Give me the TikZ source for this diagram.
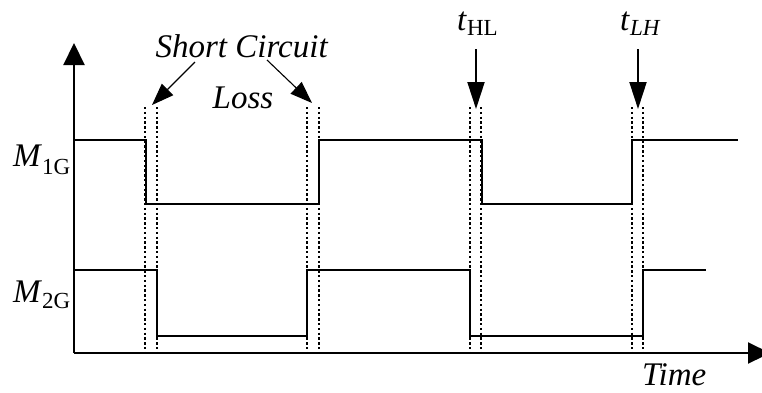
\documentclass[tikz,border=0pt]{standalone}
\usepackage{fontspec}
\setmainfont{Liberation Serif}
\usetikzlibrary{arrows.meta}
\newcommand{\bigtxt}{\fontsize{33}{36}\selectfont}
\newcommand{\subtxt}{\fontsize{23}{24}\selectfont}
\begin{document}
\begin{tikzpicture}[x=1pt,y=-1pt,
  wave/.style={line width=2.2pt,line join=miter},
  axis/.style={line width=2.2pt,-{Triangle[length=22pt,width=21pt]}},
  dotline/.style={line width=2.3pt,dash pattern=on 2.4pt off 2.4pt},
  thinarrow/.style={line width=1.1pt,-{Triangle[length=22pt,width=16pt]}},
  markarrow/.style={line width=2pt,-{Triangle[length=27pt,width=17pt]}},
  lbl/.style={inner sep=0pt,font=\bigtxt}]
\useasboundingbox (0,0) rectangle (762,392);
% axes
\coordinate (O) at (74,353);
\coordinate (ytip) at (74,43);
\coordinate (xtip) at (770,353);
\draw[axis] (O) -- (ytip);
\draw[axis] (O) -- (xtip);
% dotted lines
\foreach \x/\n in {145/a,157/b,307/c,319/d,470/e,481/f,632/g,643/h}{
  \coordinate (top\n) at (\x,107);
  \coordinate (bot\n) at (\x,353);
  \draw[dotline] (top\n) -- (bot\n);
}
% waveforms
\draw[wave] (74,140) -- (146,140) -- (146,204) -- (319,204) -- (319,140) -- (482,140) -- (482,204) -- (632,204) -- (632,140) -- (738,140);
\draw[wave] (74,270) -- (157,270) -- (157,336) -- (307,336) -- (307,270) -- (470,270) -- (470,336) -- (643,336) -- (643,270) -- (706,270);
% labels
\node[lbl,anchor=base west] (m1) at (13,166) {\textit{M}{\subtxt\raisebox{-8pt}{1G}}};
\node[lbl,anchor=base west] (m2) at (13,302) {\textit{M}{\subtxt\raisebox{-6pt}{2G}}};
\node[lbl,anchor=base] (sc) at (242,57) {\textit{Short Circuit}};
\node[lbl,anchor=base] (loss) at (243,108) {\textit{Loss}};
\node[lbl,anchor=base west] (thl) at (457,30) {\textit{t}{\subtxt\raisebox{-5pt}{HL}}};
\node[lbl,anchor=base west] (tlh) at (620,30) {\textit{t}{\subtxt\raisebox{-5pt}{\textit{LH}}}};
\node[lbl,anchor=base west] (time) at (642,385) {\textit{Time}};
% arrows
\coordinate (sca) at (195,62);
\coordinate (scb) at (267,60);
\coordinate (sctipa) at (152,105);
\coordinate (sctipb) at (312,103);
\draw[thinarrow] (sca) -- (sctipa);
\draw[thinarrow] (scb) -- (sctipb);
\coordinate (hla) at (476,49);
\coordinate (hlb) at (476,109);
\coordinate (lha) at (638,49);
\coordinate (lhb) at (638,109);
\draw[markarrow] (hla) -- (hlb);
\draw[markarrow] (lha) -- (lhb);
\end{tikzpicture}
\end{document}
